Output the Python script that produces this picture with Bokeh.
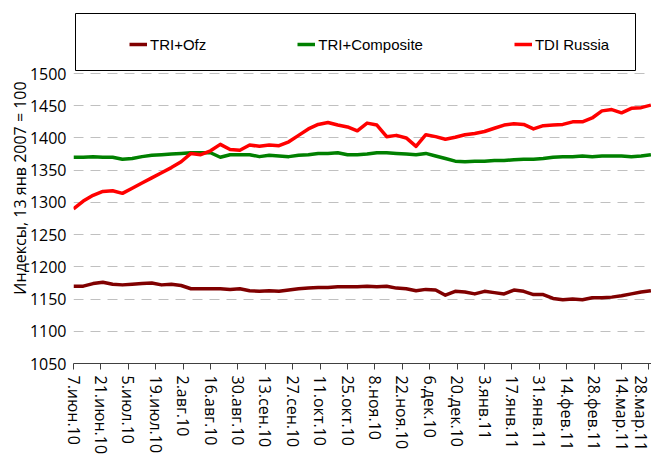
import pandas as pd
from bokeh.plotting import figure
from bokeh.models import FixedTicker, Legend, LegendItem, Range1d, BoxAnnotation
from bokeh.embed import file_html
from bokeh.resources import INLINE

# ---------------- data ----------------
start_date = "2010-06-07"

dates = [
    "2010-06-07", "2010-06-12", "2010-06-17", "2010-06-22", "2010-06-27",
    "2010-07-02", "2010-07-07", "2010-07-12", "2010-07-17", "2010-07-22",
    "2010-07-27", "2010-08-01", "2010-08-06", "2010-08-11", "2010-08-16",
    "2010-08-21", "2010-08-26", "2010-08-31", "2010-09-05", "2010-09-10",
    "2010-09-15", "2010-09-20", "2010-09-25", "2010-09-30", "2010-10-05",
    "2010-10-10", "2010-10-15", "2010-10-20", "2010-10-25", "2010-10-30",
    "2010-11-04", "2010-11-09", "2010-11-14", "2010-11-19", "2010-11-24",
    "2010-11-29", "2010-12-04", "2010-12-09", "2010-12-14", "2010-12-19",
    "2010-12-24", "2010-12-29", "2011-01-03", "2011-01-08", "2011-01-13",
    "2011-01-18", "2011-01-23", "2011-01-28", "2011-02-02", "2011-02-07",
    "2011-02-12", "2011-02-17", "2011-02-22", "2011-02-27", "2011-03-04",
    "2011-03-09", "2011-03-14", "2011-03-19", "2011-03-24", "2011-03-29",
]

tri_ofz = [
    1170, 1170, 1174, 1176, 1173, 1172, 1173, 1174, 1175, 1172,
    1173, 1171, 1166, 1166, 1166, 1166, 1165, 1166, 1163, 1162,
    1163, 1162, 1164, 1166, 1167, 1168, 1168, 1169, 1169, 1169,
    1170, 1169, 1170, 1167, 1166, 1163, 1165, 1164, 1156, 1162,
    1161, 1158, 1162, 1160, 1158, 1164, 1162, 1157, 1157, 1151,
    1149, 1150, 1149, 1152, 1152, 1153, 1155, 1158, 1161, 1163,
]

tri_composite = [
    1370, 1370, 1371, 1370, 1370, 1367, 1368, 1371, 1373, 1374,
    1375, 1376, 1377, 1377, 1377, 1370, 1374, 1374, 1374, 1371,
    1373, 1372, 1371, 1373, 1374, 1376, 1376, 1377, 1374, 1374,
    1375, 1377, 1377, 1376, 1375, 1374, 1376, 1372, 1368, 1364,
    1363, 1364, 1364, 1365, 1365, 1366, 1367, 1367, 1368, 1370,
    1371, 1371, 1372, 1371, 1372, 1372, 1372, 1371, 1372, 1374,
]

tdi_russia = [
    1290, 1302, 1311, 1317, 1318, 1314, 1322, 1330, 1338, 1346,
    1354, 1363, 1376, 1374, 1380, 1390, 1382, 1381, 1389, 1387,
    1389, 1388, 1394, 1404, 1414, 1421, 1424, 1420, 1417, 1411,
    1423, 1420, 1402, 1404, 1400, 1387, 1405, 1402, 1398, 1401,
    1405, 1407, 1410, 1415, 1420, 1422, 1421, 1414, 1419, 1420,
    1421, 1425, 1425, 1431, 1442, 1444, 1439, 1446, 1447, 1451,
]

tick_dates = [
    "2010-06-07", "2010-06-21", "2010-07-05", "2010-07-19", "2010-08-02",
    "2010-08-16", "2010-08-30", "2010-09-13", "2010-09-27", "2010-10-11",
    "2010-10-25", "2010-11-08", "2010-11-22", "2010-12-06", "2010-12-20",
    "2011-01-03", "2011-01-17", "2011-01-31", "2011-02-14", "2011-02-28",
    "2011-03-14", "2011-03-28",
]
tick_labels = [
    "7.июн.10", "21.июн.10", "5.июл.10", "19.июл.10", "2.авг.10",
    "16.авг.10", "30.авг.10", "13.сен.10", "27.сен.10", "11.окт.10",
    "25.окт.10", "8.ноя.10", "22.ноя.10", "6.дек.10", "20.дек.10",
    "3.янв.11", "17.янв.11", "31.янв.11", "14.фев.11", "28.фев.11",
    "14.мар.11", "28.мар.11",
]
y_ticks = [1050, 1100, 1150, 1200, 1250, 1300, 1350, 1400, 1450, 1500]

series_names = ["TRI+Ofz", "TRI+Composite", "TDI Russia"]
series_colors = ["#800000", "#008000", "#FF0000"]
series_values = [tri_ofz, tri_composite, tdi_russia]

# ---------------- conversion ----------------
t0 = pd.Timestamp(start_date)
x_days = [int((pd.Timestamp(d) - t0).days) for d in dates]
tick_days = [int((pd.Timestamp(d) - t0).days) for d in tick_dates]

SANS = "Open Sans"
LEGFONT = "Liberation Sans"

# ---------------- layout constants (pixels) ----------------
FRAME_W = 578            # frame width
X_END = 295.3            # days shown across the frame
PLOT_H = 290             # pixel height of the 1050..1500 band
TOP_EXTRA = 61           # frame space above the 1500 line (legend box lives here)
BOX_LEFT_PX, BOX_RIGHT_PX = 2, 562      # legend box, px from frame left
BOX_TOP_PX, BOX_BOTTOM_PX = 60, 3       # legend box, px above the 1500 line

y_min, y_max = y_ticks[0], y_ticks[-1]
upp = (y_max - y_min) / PLOT_H           # value units per pixel
dpp = X_END / FRAME_W                    # days per pixel
y_top = y_max + TOP_EXTRA * upp

p = figure(width=651, height=464, output_backend="svg", toolbar_location=None,
           x_range=Range1d(0, X_END), y_range=Range1d(y_min, y_top),
           min_border_left=73, min_border_right=0, min_border_top=12,
           min_border_bottom=101)
p.outline_line_color = None

renderers = []
for name, col, vals in zip(series_names, series_colors, series_values):
    r = p.line(x=x_days, y=vals, line_color=col, line_width=3.5, line_join="round")
    renderers.append(r)

# legend frame box
box = BoxAnnotation(left=BOX_LEFT_PX * dpp, right=BOX_RIGHT_PX * dpp,
                    bottom=y_max + BOX_BOTTOM_PX * upp, top=y_max + BOX_TOP_PX * upp,
                    fill_color="#ffffff", fill_alpha=1,
                    line_color="#000000", line_width=1, line_alpha=1)
p.add_layout(box)

legend = Legend(items=[LegendItem(label=n, renderers=[r]) for n, r in zip(series_names, renderers)],
                orientation="horizontal", location=(56, PLOT_H + 19),
                spacing=91, glyph_width=18, glyph_height=20, label_standoff=3,
                label_height=20, padding=0, margin=0, border_line_color=None,
                background_fill_alpha=0,
                label_text_font=LEGFONT, label_text_font_size="15px",
                label_text_color="#000000")
p.add_layout(legend, "center")

# x axis
p.xaxis.ticker = FixedTicker(ticks=tick_days)
p.xaxis.major_label_overrides = {d: lab for d, lab in zip(tick_days, tick_labels)}
p.xaxis.major_label_orientation = "vertical"
p.xaxis.major_label_text_font = SANS
p.xaxis.major_label_text_font_size = "16px"
p.xaxis.major_label_text_color = "#000000"
p.xaxis.major_label_standoff = 6
p.xaxis.axis_line_color = "#404040"
p.xaxis.major_tick_line_color = "#404040"
p.xaxis.major_tick_out = 6
p.xaxis.major_tick_in = 0
p.xaxis.minor_tick_line_color = None
p.xgrid.visible = False

# y axis
p.yaxis.ticker = FixedTicker(ticks=y_ticks)
p.yaxis.axis_line_color = None
p.yaxis.major_tick_line_color = None
p.yaxis.minor_tick_line_color = None
p.yaxis.major_label_standoff = 1
p.yaxis.major_label_text_font = SANS
p.yaxis.major_label_text_font_size = "16px"
p.yaxis.major_label_text_color = "#000000"
p.yaxis.axis_label = "Индексы, 13 янв 2007 = 100"
p.yaxis.axis_label_text_font = SANS
p.yaxis.axis_label_text_font_size = "16px"
p.yaxis.axis_label_text_font_style = "normal"
p.yaxis.axis_label_text_color = "#000000"
p.yaxis.axis_label_standoff = -4

p.ygrid.grid_line_color = "#c0c0c0"
p.ygrid.grid_line_width = 1
p.ygrid.grid_line_dash = "10 7"

open("out.html", "w").write(file_html(p, INLINE))
